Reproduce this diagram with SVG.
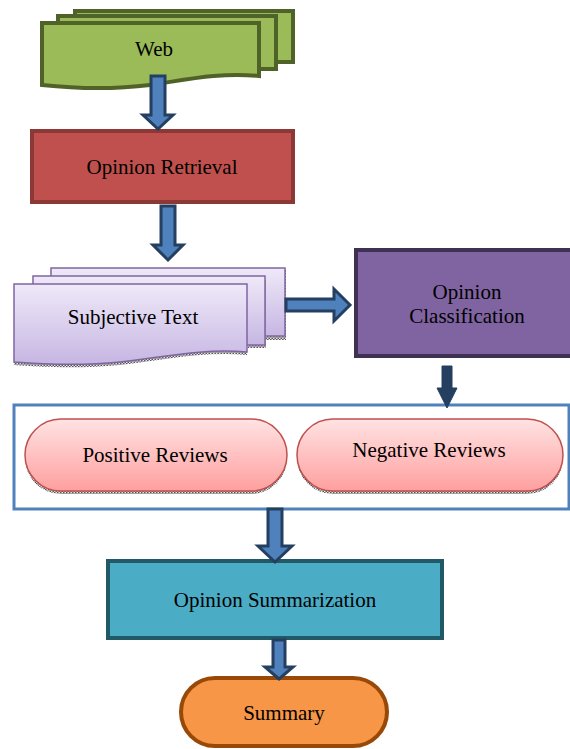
<svg xmlns="http://www.w3.org/2000/svg" width="570" height="749" viewBox="0 0 570 749">
<style>
.t{font-family:'Liberation Serif','Times New Roman',Times,serif;font-size:21px;fill:#000;text-anchor:middle}
.web{fill:#9bbb59;stroke:#4f6228;stroke-width:4}
.sub{fill:url(#lav);stroke:#8064a2;stroke-width:1.5}
.pill{fill:url(#pink);stroke:#c0504d;stroke-width:1.5}
.shadow{fill:url(#dots)}
.arr{fill:#4f81bd;stroke:#243f60;stroke-width:3;stroke-linejoin:miter}
.arrd{fill:#243f60;stroke:#243f60;stroke-width:1}
</style>
<defs>
<linearGradient id="lav" x1="0" y1="0" x2="0" y2="1"><stop offset="0" stop-color="#efe9f8"/><stop offset="1" stop-color="#c6b6e3"/></linearGradient>
<linearGradient id="pink" x1="0" y1="0" x2="0" y2="1"><stop offset="0" stop-color="#ffe3e3"/><stop offset="1" stop-color="#ff9f9f"/></linearGradient>
<pattern id="dots" width="3" height="3" patternUnits="userSpaceOnUse"><rect width="3" height="3" fill="#e8e8e8"/><rect width="1.5" height="1.5" fill="#555"/><rect x="1.5" y="1.5" width="1.5" height="1.5" fill="#555"/></pattern>
</defs>

<g id="web">
<rect class="web" x="75" y="11" width="218" height="51"/>
<rect class="web" x="58" y="16" width="218" height="53"/>
<path class="web" d="M42,23 H259 V76 C220,72 185,80 150,85 C110,90 70,88 42,85 Z"/>
<text class="t" x="154" y="56" font-size="20">Web</text>
</g>

<g id="retrieval">
<rect x="32" y="131" width="261" height="71" fill="#c0504d" stroke="#8c3836" stroke-width="4"/>
<text class="t" x="162" y="174">Opinion Retrieval</text>
</g>

<g id="subjective">
<rect class="shadow" x="266" y="270" width="20" height="70"/>
<rect class="sub" x="51" y="268" width="234" height="68"/>
<rect class="shadow" x="248" y="280" width="18" height="68"/>
<rect class="sub" x="33" y="276" width="232" height="69"/>
<path class="shadow" d="M14,287 H247 V355 C200,351 160,361 120,365 C80,369 40,367 14,365 Z"/>
<path class="sub" d="M14,284 H247 V352 C200,348 160,358 120,362 C80,366 40,364 14,362 Z"/>
<text class="t" x="133" y="324">Subjective Text</text>
</g>

<g id="classification">
<rect x="356" y="250" width="220" height="106" fill="#8064a2" stroke="#3f3151" stroke-width="4"/>
<text class="t" x="467" y="299">Opinion</text>
<text class="t" x="467" y="323">Classification</text>
</g>

<g id="reviews">
<rect x="14" y="405" width="555" height="104" fill="#fff" stroke="#4f81bd" stroke-width="3"/>
<g id="positive">
<rect class="shadow" x="25" y="422" width="262" height="72" rx="36"/>
<rect class="pill" x="25" y="419" width="262" height="72" rx="36"/>
<text class="t" x="155" y="462">Positive Reviews</text>
</g>
<g id="negative">
<rect class="shadow" x="297" y="422" width="266" height="72" rx="36"/>
<rect class="pill" x="297" y="419" width="266" height="72" rx="36"/>
<text class="t" x="429" y="457">Negative Reviews</text>
</g>
</g>

<g id="summarization">
<rect x="108" y="561" width="334" height="77" fill="#4bacc6" stroke="#215967" stroke-width="4"/>
<text class="t" x="275" y="607">Opinion Summarization</text>
</g>

<g id="summary">
<rect x="181" y="678" width="206" height="68" rx="34" fill="#f79646" stroke="#984807" stroke-width="4"/>
<text class="t" x="284" y="720">Summary</text>
</g>

<g id="connectors">
<path class="arr" d="M151,76 H165 V115 H173 L158,129 L143,115 H151 Z"/>
<path class="arr" d="M161,206 H175 V245 H183 L168,260 L153,245 H161 Z"/>
<path class="arr" d="M286,299 H334 V289 L350,305 L334,321 V311 H286 Z"/>
<path class="arrd" d="M442,366 H452 V388 H457 L447,408 L437,388 H442 Z"/>
<path class="arr" d="M268,509 H282 V546 H292 L275,562 L258,546 H268 Z"/>
<path class="arr" d="M273,640 H285 V667 H293 L279,679 L265,667 H273 Z"/>
</g>
</svg>
